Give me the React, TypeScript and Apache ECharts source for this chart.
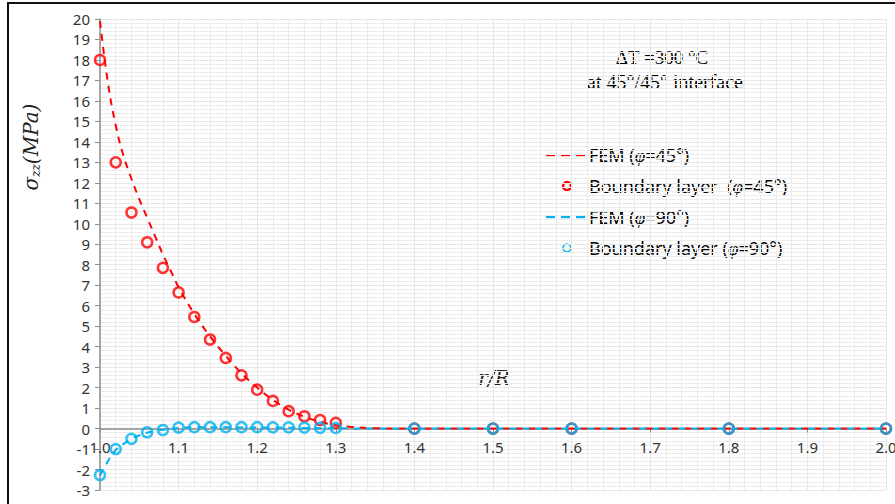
import React, { useEffect, useRef } from "react";
import * as echarts from "echarts";

// ---- data ----
const femX = [1.0, 1.01, 1.02, 1.03, 1.04, 1.05, 1.06, 1.07, 1.08, 1.09, 1.1, 1.12, 1.14, 1.16, 1.18, 1.2, 1.22, 1.24, 1.26, 1.28, 1.3, 1.32, 1.35, 1.4, 1.5, 1.6, 1.7, 1.8, 1.9, 2.0];
const fem45 = [19.9, 16.9, 14.8, 13.3, 12.2, 11.2, 10.3, 9.4, 8.5, 7.7, 6.9, 5.6, 4.5, 3.55, 2.7, 2.0, 1.4, 0.92, 0.58, 0.33, 0.17, 0.08, 0.02, 0, 0, 0, 0, 0, 0, 0];
const fem90 = [-2.3, -1.6, -1.05, -0.75, -0.5, -0.33, -0.2, -0.12, -0.06, -0.01, 0.03, 0.06, 0.06, 0.06, 0.05, 0.05, 0.05, 0.04, 0.03, 0.02, 0.02, 0.01, 0.005, 0, 0, 0, 0, 0, 0, 0];

const blX = [1.0, 1.02, 1.04, 1.06, 1.08, 1.1, 1.12, 1.14, 1.16, 1.18, 1.2, 1.22, 1.24, 1.26, 1.28, 1.3, 1.4, 1.5, 1.6, 1.8, 2.0];
const bl45 = [18.0, 13.0, 10.55, 9.1, 7.85, 6.65, 5.45, 4.35, 3.45, 2.6, 1.9, 1.35, 0.85, 0.6, 0.42, 0.28, 0, 0, 0, 0, 0];
const bl90 = [-2.27, -1.0, -0.5, -0.18, -0.07, 0.05, 0.07, 0.07, 0.07, 0.07, 0.07, 0.06, 0.06, 0.05, 0.04, 0.03, 0, 0, 0, 0, 0];

const legendNames = ["FEM (φ=45°)", "Boundary layer  (φ=45°)", "FEM (φ=90°)", "Boundary layer (φ=90°)"];

const X_MIN = 1;
const X_MAX = 2;
const Y_MIN = -3;
const Y_MAX = 20;

const RED = "#FF0000";
const BLUE = "#00B0F0";
const SANS = "Noto Sans";

const GRID_TOP = 19;
const GRID_BOTTOM = 14;
const CHART_H = 504;

const zip = (xs: number[], ys: number[]) => xs.map((x, i) => [x, ys[i]]);

function legendRich(name: string) {
  const parts = name.split("φ");
  return `{n|${parts[0]}}{i|φ}{n|${parts[1]}}`;
}

function legendDashes(y: number, color: string, idp: string) {
  const starts = [546, 561, 576];
  return starts.map((x, k) => ({
    type: "rect",
    id: `${idp}-${k}`,
    shape: { x, y: y - 1, width: 9, height: 2.2 },
    style: { fill: color },
  }));
}

export default function App() {
  const ref = useRef<HTMLDivElement>(null);
  useEffect(() => {
    if (!ref.current) return;
    const chart = echarts.init(ref.current, undefined, { renderer: "svg" });
    // distance of the value 0 above the bottom of the plot, to place the x axis on y = 0
    const plotH = CHART_H - GRID_TOP - GRID_BOTTOM;
    const zeroOffset = ((0 - Y_MIN) / (Y_MAX - Y_MIN)) * plotH;

    const legendRows = [155, 186, 217, 248];
    const legendRichStyle = {
      n: { fontFamily: SANS, fontSize: 18, fill: "#000" },
      i: { fontFamily: "Liberation Serif", fontStyle: "italic", fontSize: 19, fill: "#000" },
    };
    const graphic: any[] = [
      {
        type: "rect",
        id: "frame",
        shape: { x: 8, y: 3, width: 900, height: 520 },
        style: { fill: "none", stroke: "#111", lineWidth: 2 },
        silent: true,
        z: 100,
      },
      {
        type: "text",
        id: "ytitle",
        x: 31,
        y: 147,
        rotation: Math.PI / 2,
        style: {
          text: "{a|σ}{b|zz}{a|(MPa)}",
          align: "center",
          verticalAlign: "middle",
          rich: {
            a: { fontFamily: "DejaVu Serif", fontStyle: "italic", fontSize: 20, fill: "#222" },
            b: { fontFamily: "DejaVu Serif", fontStyle: "italic", fontSize: 12, fill: "#222", padding: [10, 0, 0, 0] },
          },
        },
      },
      {
        type: "text",
        id: "xtitle",
        x: 494,
        y: 378,
        style: {
          text: "r/R",
          align: "center",
          verticalAlign: "middle",
          fontFamily: "DejaVu Serif",
          fontStyle: "italic",
          fontSize: 20,
          fill: "#222",
        },
      },
      {
        type: "text",
        id: "note1",
        x: 662,
        y: 57,
        style: { text: "ΔT =300 °C", align: "center", verticalAlign: "middle", fontFamily: "Liberation Serif", fontSize: 19, fill: "#000" },
      },
      {
        type: "text",
        id: "note2",
        x: 665,
        y: 82,
        style: { text: "at 45°/45° interface", align: "center", verticalAlign: "middle", fontFamily: "Liberation Serif", fontSize: 20, fill: "#000" },
      },
      ...legendDashes(legendRows[0], RED, "lg0"),
      {
        type: "circle",
        id: "lg1",
        shape: { cx: 567, cy: legendRows[1], r: 4 },
        style: { fill: "none", stroke: RED, lineWidth: 2.5 },
      },
      ...legendDashes(legendRows[2], BLUE, "lg2"),
      {
        type: "circle",
        id: "lg3",
        shape: { cx: 567, cy: legendRows[3], r: 4 },
        style: { fill: "none", stroke: BLUE, lineWidth: 1.5 },
      },
      ...legendNames.map((nm, i) => ({
        type: "text",
        id: `lgt${i}`,
        x: 589,
        y: legendRows[i],
        style: { text: legendRich(nm), verticalAlign: "middle", align: "left", rich: legendRichStyle },
      })),
    ];

    chart.setOption({
      animation: false,
      backgroundColor: "#fff",
      grid: { left: 100, right: 9, top: GRID_TOP, bottom: GRID_BOTTOM, containLabel: false, outerBoundsMode: "none" },
      xAxis: {
        type: "value",
        min: X_MIN,
        max: X_MAX,
        interval: 0.1,
        position: "bottom",
        offset: -zeroOffset,
        axisLine: { onZero: false, lineStyle: { color: "#8c8c8c", width: 1.5 } },
        axisTick: { show: true, length: 4, inside: false, lineStyle: { color: "#8c8c8c" } },
        axisLabel: {
          formatter: (v: number) => v.toFixed(1),
          fontFamily: SANS,
          fontSize: 15,
          color: "#333",
          margin: 11,
          showMaxLabel: true,
          showMinLabel: true,
        },
        splitLine: { show: true, lineStyle: { color: "#e6e6e6", width: 1 } },
        minorTick: { show: false, splitNumber: 5 },
        minorSplitLine: { show: true, lineStyle: { color: "#ececec", width: 1 } },
      },
      yAxis: {
        type: "value",
        min: Y_MIN,
        max: Y_MAX,
        interval: 1,
        axisLine: { show: true, onZero: false, lineStyle: { color: "#8c8c8c", width: 1.5 } },
        axisTick: { show: true, length: 5, lineStyle: { color: "#8c8c8c" } },
        axisLabel: { fontFamily: SANS, fontSize: 15, color: "#333", margin: 10 },
        splitLine: { show: true, lineStyle: { color: "#e6e6e6", width: 1 } },
        minorTick: { show: false, splitNumber: 5 },
        minorSplitLine: { show: true, lineStyle: { color: "#ececec", width: 1 } },
      },
      series: [
        {
          name: legendNames[0],
          type: "line",
          data: zip(femX, fem45),
          smooth: 0.4,
          showSymbol: false,
          lineStyle: { color: RED, width: 2, type: [7, 6] },
          z: 2,
        },
        {
          name: legendNames[1],
          type: "scatter",
          data: zip(blX, bl45),
          symbol: "circle",
          symbolSize: 10,
          itemStyle: { color: "rgba(255,255,255,0)", borderColor: RED, borderWidth: 2.5 },
          z: 3,
        },
        {
          name: legendNames[2],
          type: "line",
          data: zip(femX, fem90),
          smooth: 0.4,
          showSymbol: false,
          lineStyle: { color: BLUE, width: 2, type: [7, 6] },
          z: 4,
        },
        {
          name: legendNames[3],
          type: "scatter",
          data: zip(blX, bl90),
          symbol: "circle",
          symbolSize: 10,
          itemStyle: { color: "rgba(255,255,255,0)", borderColor: BLUE, borderWidth: 2.5 },
          z: 5,
        },
      ],
      graphic,
    });
    return () => chart.dispose();
  }, []);
  return (
    <div
      ref={ref}
      style={{ position: "absolute", left: 0, top: 0, width: 895, height: 504 }}
    />
  );
}
